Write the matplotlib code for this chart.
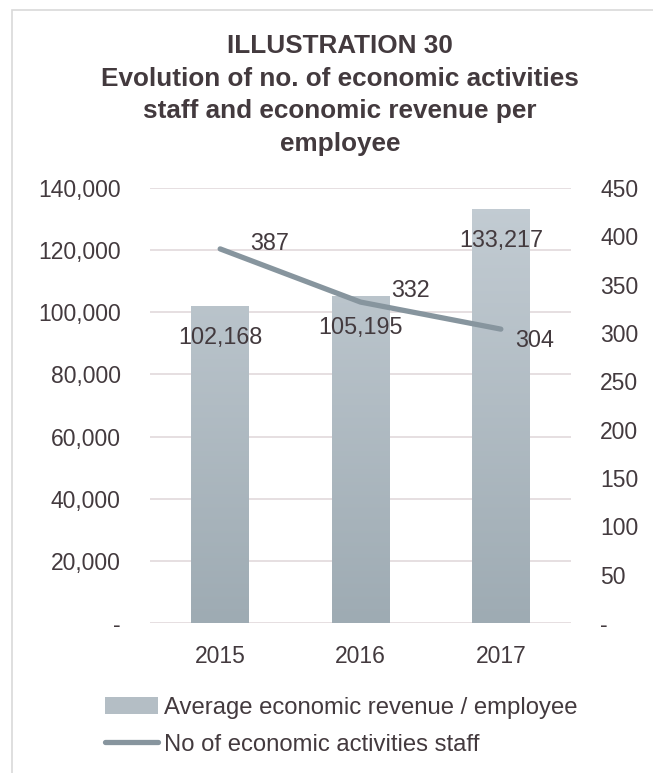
import numpy as np
import matplotlib
matplotlib.use("Agg")
import matplotlib.pyplot as plt
from matplotlib.patches import Rectangle, Patch
from matplotlib.lines import Line2D
from matplotlib.colors import LinearSegmentedColormap

plt.rcParams['font.family'] = ['Liberation Sans', 'DejaVu Sans']

# data
years = ['2015', '2016', '2017']
revenue = [102168, 105195, 133217]
staff = [387, 332, 304]
left_ticks = [0, 20000, 40000, 60000, 80000, 100000, 120000, 140000]
right_ticks = [0, 50, 100, 150, 200, 250, 300, 350, 400, 450]

txt = '#433a3e'
grid_c = '#e4dcde'
line_c = '#87959e'
W, H = 653, 773

fig = plt.figure(figsize=(W / 100, H / 100), dpi=100)

# outer chart border
fig.patches.append(Rectangle((12 / W, -0.05), 1.0, 1 - 10 / H + 0.05, transform=fig.transFigure,
                             fill=False, edgecolor='#d9d9d9', linewidth=1.2))

ax = fig.add_axes([150 / W, 1 - 623 / H, (571 - 150) / W, (623 - 188) / H])
x = np.arange(len(years))

bars = ax.bar(x, revenue, width=0.41, color='#b4bec5', zorder=2)
# vertical gradient on the bars
cmap = LinearSegmentedColormap.from_list('g', ['#9eabb3', '#c4cdd4'])
grad = np.linspace(0, 1, 256).reshape(-1, 1)
for b in bars:
    im = ax.imshow(grad, cmap=cmap, origin='lower', aspect='auto', zorder=2,
                   extent=[b.get_x(), b.get_x() + b.get_width(), 0, 140000])
    im.set_clip_path(b)

ax.set_xlim(-0.5, 2.5)
ax.set_ylim(0, 140000)
ax.set_yticks(left_ticks)
ax.set_yticklabels(['-' if t == 0 else f'{t:,}' for t in left_ticks])
ax.set_xticks(x)
ax.set_xticklabels(years)
ax.grid(axis='y', color=grid_c, linewidth=1.3, zorder=0)
ax.set_axisbelow(True)
for s in ax.spines.values():
    s.set_visible(False)
ax.tick_params(axis='both', length=0, labelsize=16.5, colors=txt)
ax.tick_params(axis='y', pad=21)
ax.tick_params(axis='x', pad=16)

for i, v in enumerate(revenue):
    ax.annotate(f'{v:,}', (x[i], v), xytext=(0, -20), textcoords='offset pixels',
                ha='center', va='top', fontsize=16.8, color=txt, zorder=5)

ax2 = ax.twinx()
ax2.plot(x, staff, color=line_c, linewidth=3.8, solid_capstyle='round', zorder=4)
ax2.set_ylim(0, 450)
ax2.set_yticks(right_ticks)
ax2.set_yticklabels(['-' if t == 0 else str(t) for t in right_ticks])
for s in ax2.spines.values():
    s.set_visible(False)
ax2.tick_params(axis='y', length=0, labelsize=16.5, colors=txt, pad=21)

offsets = [(30, 5), (31, 12), (14, -11)]
for i, v in enumerate(staff):
    ax2.annotate(str(v), (x[i], v), xytext=offsets[i], textcoords='offset pixels',
                 ha='left', va='center', fontsize=16.8, color=txt)

fig.text(340 / W, 1 - 34 / H,
         'ILLUSTRATION 30\nEvolution of no. of economic activities\nstaff and economic revenue per\nemployee',
         ha='center', va='top', fontsize=18.8, fontweight='bold', color=txt, linespacing=1.46)

handles = [Patch(facecolor='#b4bec5', edgecolor='none'),
           Line2D([0], [0], color=line_c, linewidth=3.8, solid_capstyle='round')]
fig.legend(handles, ['Average economic revenue / employee', 'No of economic activities staff'],
           loc='upper left', bbox_to_anchor=(105 / W, 1 - 697 / H), frameon=False,
           fontsize=17.2, labelcolor=txt, handlelength=2.2, handletextpad=0.25,
           labelspacing=0.62, borderaxespad=0, borderpad=0)

fig.savefig('out.png', dpi=100)
